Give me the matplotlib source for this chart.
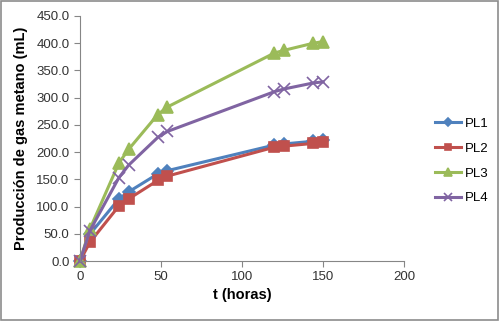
import matplotlib
matplotlib.use("Agg")
import matplotlib.pyplot as plt
from matplotlib.patches import Rectangle

plt.rcParams['font.family'] = ['Liberation Sans', 'DejaVu Sans']

t_horas = [0, 6, 24, 30, 48, 54, 120, 126, 144, 150]
pl1 = [0, 49, 114, 127, 160, 166, 213, 215, 220, 222]
pl2 = [0, 34, 101, 114, 148, 156, 209, 211, 216, 219]
pl3 = [0, 58, 180, 205, 269, 283, 382, 387, 400, 403]
pl4 = [0, 55, 153, 176, 227, 238, 311, 316, 327, 329]

series = [
    ("PL1", pl1, "#4F81BD", "D", 6),
    ("PL2", pl2, "#C0504D", "s", 7),
    ("PL3", pl3, "#9BBB59", "^", 8),
    ("PL4", pl4, "#8064A2", "x", 8),
]

fig = plt.figure(figsize=(5.0, 3.21), dpi=100)
ax = fig.add_axes([80 / 500, 60 / 321, 324 / 500, 245 / 321])

for name, vals, color, marker, ms in series:
    ax.plot(t_horas, vals, color=color, lw=2.2, marker=marker, ms=ms,
            mew=1.2, label=name)

ax.set_xlim(0, 200)
ax.set_ylim(0, 450)
ax.set_xticks(range(0, 201, 50))
ax.set_yticks(range(0, 451, 50))
ax.set_yticklabels([f"{v:.1f}" for v in range(0, 451, 50)])

for s in ("top", "right"):
    ax.spines[s].set_visible(False)
for s in ("left", "bottom"):
    ax.spines[s].set_color("#868686")
ax.tick_params(colors="#333333", labelsize=9.5, length=4, color="#868686")
for ln in ax.lines:
    ln.set_clip_on(False)

ax.set_xlabel("t (horas)", fontsize=10.5, fontweight="bold", labelpad=3)
ax.set_ylabel("Producción de gas metano (mL)", fontsize=10.5,
              fontweight="bold", labelpad=6)

ax.legend(loc="center left", bbox_to_anchor=(423 / 500, (321 - 161) / 321),
          bbox_transform=fig.transFigure, frameon=False, fontsize=9.5,
          handlelength=2.0, labelspacing=0.95, handletextpad=0.3,
          markerscale=0.7)

fig.patches.append(Rectangle((0.002, 0.003), 0.994, 0.993,
                             transform=fig.transFigure, fill=False,
                             edgecolor="#8c8c8c", lw=1.2))

fig.savefig("out.png", dpi=100)
